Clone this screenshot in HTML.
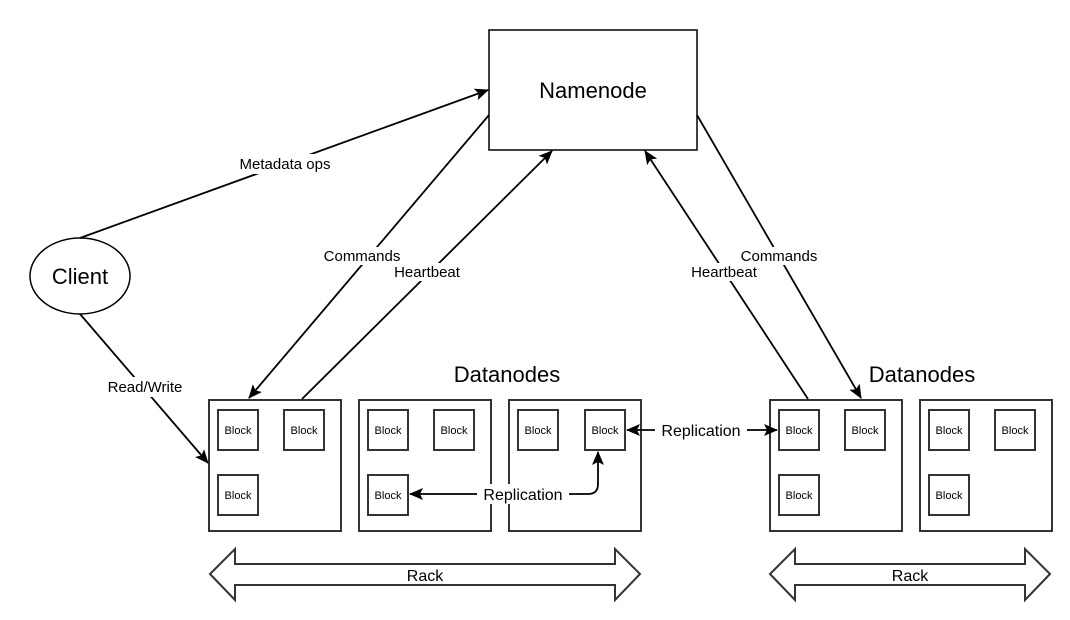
<!DOCTYPE html>
<html><head><meta charset="utf-8"><style>
html,body{margin:0;padding:0;background:#fff}
svg{display:block}
text{font-family:"Liberation Sans",Arial,sans-serif;fill:#000}
</style></head><body>
<svg width="1070" height="620" viewBox="0 0 1070 620" xmlns="http://www.w3.org/2000/svg">
<defs>
<marker id="a" markerWidth="14" markerHeight="12" refX="13" refY="6" orient="auto" markerUnits="userSpaceOnUse" viewBox="0 0 14 12">
<path d="M0,0 L14,6 L0,12 L3,6 z" fill="#000"/></marker>
<marker id="s" markerWidth="14" markerHeight="12" refX="1" refY="6" orient="auto" markerUnits="userSpaceOnUse" viewBox="0 0 14 12">
<path d="M14,0 L0,6 L14,12 L11,6 z" fill="#000"/></marker>
</defs>
<g fill="#fff" stroke="#333" stroke-width="2">
<rect x="489" y="30" width="208" height="120" fill="#fff" stroke="#000" stroke-width="1.5"/>
<ellipse cx="80" cy="276" rx="50" ry="38" stroke="#000" stroke-width="1.5"/>
<rect x="209" y="400" width="132" height="131"/>
<rect x="359" y="400" width="132" height="131"/>
<rect x="509" y="400" width="132" height="131"/>
<rect x="770" y="400" width="132" height="131"/>
<rect x="920" y="400" width="132" height="131"/>
</g>
<g fill="#fff" stroke="#333" stroke-width="2">
<rect x="218" y="410" width="40" height="40"/><rect x="284" y="410" width="40" height="40"/><rect x="218" y="475" width="40" height="40"/>
<rect x="368" y="410" width="40" height="40"/><rect x="434" y="410" width="40" height="40"/><rect x="368" y="475" width="40" height="40"/>
<rect x="518" y="410" width="40" height="40"/><rect x="585" y="410" width="40" height="40"/>
<rect x="779" y="410" width="40" height="40"/><rect x="845" y="410" width="40" height="40"/><rect x="779" y="475" width="40" height="40"/>
<rect x="929" y="410" width="40" height="40"/><rect x="995" y="410" width="40" height="40"/><rect x="929" y="475" width="40" height="40"/>
</g>
<g font-size="11" text-anchor="middle">
<text x="238" y="434">Block</text><text x="304" y="434">Block</text><text x="238" y="499">Block</text>
<text x="388" y="434">Block</text><text x="454" y="434">Block</text><text x="388" y="499">Block</text>
<text x="538" y="434">Block</text><text x="605" y="434">Block</text>
<text x="799" y="434">Block</text><text x="865" y="434">Block</text><text x="799" y="499">Block</text>
<text x="949" y="434">Block</text><text x="1015" y="434">Block</text><text x="949" y="499">Block</text>
</g>
<g fill="#fff" stroke="#333" stroke-width="2">
<path d="M210,574 L235,549 L235,564 L615,564 L615,549 L640,574 L615,600 L615,585 L235,585 L235,600 z"/>
<path d="M770,574 L795,549 L795,564 L1025,564 L1025,549 L1050,574 L1025,600 L1025,585 L795,585 L795,600 z"/>
</g>
<g stroke="#000" stroke-width="1.8" fill="none">
<line x1="80" y1="238" x2="488" y2="90" marker-end="url(#a)"/>
<line x1="80" y1="314" x2="208" y2="463" marker-end="url(#a)"/>
<line x1="489" y1="115" x2="249" y2="398" marker-end="url(#a)"/>
<line x1="302" y1="399" x2="552" y2="151" marker-end="url(#a)"/>
<line x1="808" y1="399" x2="645" y2="151" marker-end="url(#a)"/>
<line x1="697" y1="115" x2="861" y2="398" marker-end="url(#a)"/>
<line x1="627" y1="430" x2="777" y2="430" marker-start="url(#s)" marker-end="url(#a)"/>
<path d="M598,452 L598,484 Q598,494 588,494 L410,494" marker-start="url(#s)" marker-end="url(#a)"/>
</g>
<g font-size="15" text-anchor="middle">
<rect x="226" y="154" width="118" height="20" fill="#fff"/>
<text x="285" y="169">Metadata ops</text>
<rect x="98" y="377" width="94" height="20" fill="#fff"/>
<text x="145" y="392">Read/Write</text>
<rect x="320" y="247" width="86" height="18" fill="#fff"/>
<text x="362" y="261">Commands</text>
<rect x="385" y="263" width="84" height="18" fill="#fff"/>
<text x="427" y="277">Heartbeat</text>
<rect x="682" y="263" width="84" height="18" fill="#fff"/>
<text x="724" y="277">Heartbeat</text>
<rect x="736" y="247" width="86" height="18" fill="#fff"/>
<text x="779" y="261">Commands</text>
</g>
<g font-size="16" text-anchor="middle">
<rect x="655" y="420" width="92" height="20" fill="#fff"/>
<text x="701" y="436">Replication</text>
<rect x="477" y="484" width="92" height="20" fill="#fff"/>
<text x="523" y="500">Replication</text>
<text x="425" y="581">Rack</text>
<text x="910" y="581">Rack</text>
</g>
<g font-size="22" text-anchor="middle">
<text x="593" y="98">Namenode</text>
<text x="80" y="284">Client</text>
<text x="507" y="382">Datanodes</text>
<text x="922" y="382">Datanodes</text>
</g>
</svg>
</body></html>
